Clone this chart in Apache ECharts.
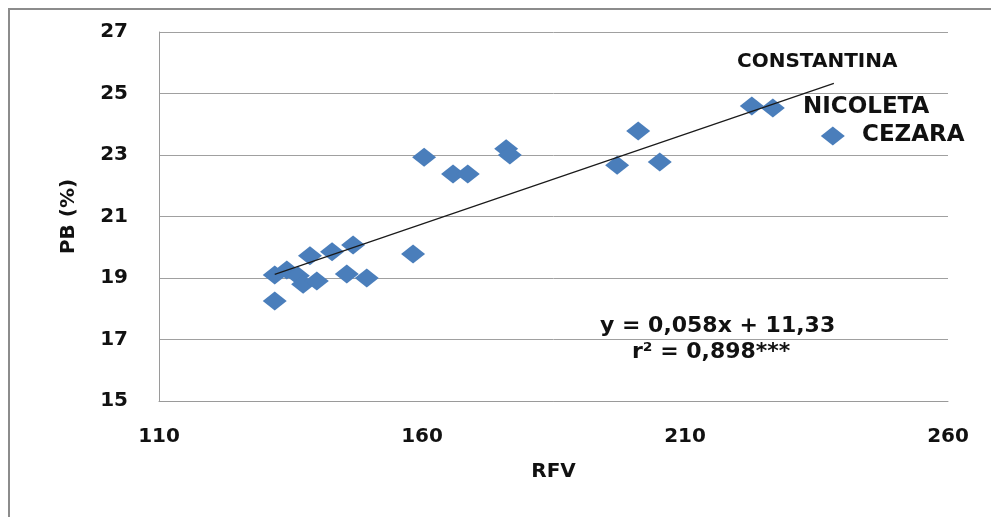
<!DOCTYPE html>
<html>
<head>
<meta charset="utf-8">
<script src="https://cdn.jsdelivr.net/npm/echarts@6/dist/echarts.min.js"></script>
<style>html,body{margin:0;padding:0;background:#fff;}#c{width:991px;height:517px;}</style>
</head>
<body>
<div id="c"></div>
<script>
const rfv = [132.0, 132.0, 134.3, 136.4, 137.4, 140.0, 138.7, 142.9, 146.9, 145.7, 149.5, 158.3, 160.4, 165.9, 168.7, 176.0, 176.7, 197.1, 201.1, 205.2, 222.7, 226.7, 238.1];
const pb  = [18.25, 19.10, 19.26, 19.07, 18.80, 18.90, 19.72, 19.85, 20.07, 19.13, 19.00, 19.78, 22.93, 22.38, 22.38, 23.20, 23.00, 22.67, 23.78, 22.77, 24.59, 24.53, 23.62];
const trendX = [132.0, 238.3];
const trendY = [19.12, 25.33];
const xTicks = [110, 160, 210, 260];
const yTicks = [15, 17, 19, 21, 23, 25, 27];
const varietyLabels = ['CONSTANTINA', 'NICOLETA', 'CEZARA'];
const eqText = 'y = 0,058x + 11,33';
const r2Text = 'r\u00B2 = 0,898***';

const FONT = '"DejaVu Sans", Verdana, sans-serif';
const chart = echarts.init(document.getElementById('c'), null, {renderer: 'canvas'});
chart.setOption({
  animation: false,
  backgroundColor: '#fff',
  grid: {left: 159, right: 43, top: 32, bottom: 116},
  xAxis: {
    type: 'value', min: 110, max: 260,
    name: 'RFV', nameLocation: 'middle', nameGap: 61,
    nameTextStyle: {fontFamily: FONT, fontWeight: 'bold', fontSize: 20, color: '#111'},
    axisLine: {show: true, lineStyle: {color: '#9a9a9a', width: 1}},
    axisTick: {show: false, customValues: xTicks},
    axisLabel: {customValues: xTicks, margin: 26, fontFamily: FONT, fontWeight: 'bold', fontSize: 20, color: '#111'},
    splitLine: {show: false}
  },
  yAxis: {
    type: 'value', min: 15, max: 27,
    name: 'PB (%)', nameLocation: 'middle', nameGap: 80, nameRotate: 90,
    nameTextStyle: {fontFamily: FONT, fontWeight: 'bold', fontSize: 20, color: '#111'},
    axisLine: {show: true, lineStyle: {color: '#9a9a9a', width: 1}},
    axisTick: {show: false, customValues: yTicks},
    axisLabel: {customValues: yTicks, margin: 31, fontFamily: FONT, fontWeight: 'bold', fontSize: 20, color: '#111'},
    splitLine: {show: true, lineStyle: {color: '#a0a0a0', width: 1}}
  },
  series: [
    {
      type: 'line',
      data: trendX.map((x, i) => [x, trendY[i]]),
      symbol: 'none',
      lineStyle: {color: '#1a1a1a', width: 1.2},
      z: 3
    },
    {
      type: 'scatter',
      data: rfv.map((x, i) => [x, pb[i]]),
      symbol: 'diamond',
      symbolSize: [24, 19],
      itemStyle: {color: '#4A7EBB', opacity: 1},
      z: 2
    }
  ],
  graphic: [
    {type: 'rect', shape: {x: 9, y: 9, width: 1100, height: 700}, style: {fill: 'none', stroke: '#8c8c8c', lineWidth: 2}, silent: true},
    {type: 'text', left: 737, top: 52, style: {text: varietyLabels[0], font: 'bold 20px ' + FONT, fill: '#111'}},
    {type: 'text', left: 803, top: 96, style: {text: varietyLabels[1], font: 'bold 23px ' + FONT, fill: '#111'}},
    {type: 'text', left: 862, top: 124, style: {text: varietyLabels[2], font: 'bold 23px ' + FONT, fill: '#111'}},
    {type: 'text', left: 600, top: 315, style: {text: eqText, font: 'bold 22px ' + FONT, fill: '#111'}},
    {type: 'text', left: 632, top: 341, style: {text: r2Text, font: 'bold 22px ' + FONT, fill: '#111'}}
  ]
});
</script>
</body>
</html>
